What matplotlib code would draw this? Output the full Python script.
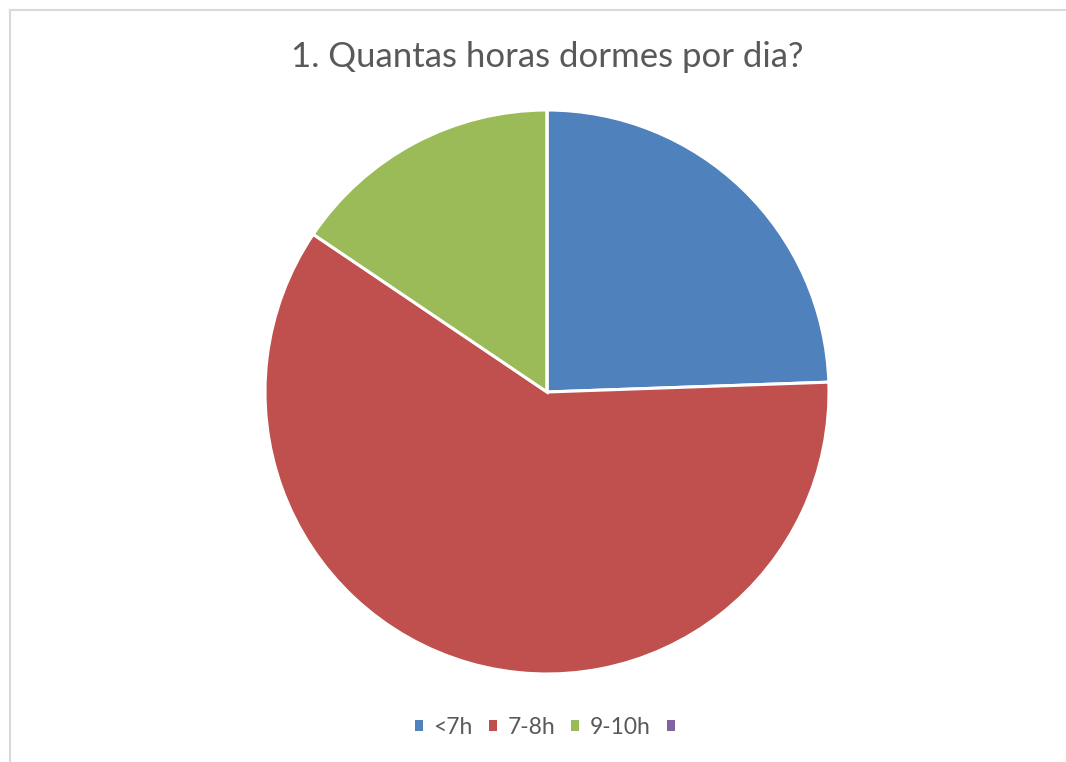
import matplotlib.pyplot as plt
from matplotlib.lines import Line2D
from matplotlib.patches import Patch

categorias = ["<7h", "7-8h", "9-10h", ""]
respostas = [11, 27, 7, 0]
cores = ["#4F81BD", "#C0504D", "#9BBB59", "#8064A2"]
titulo = "1. Quantas horas dormes por dia?"

plt.rcParams["font.family"] = ["Lato", "DejaVu Sans"]

fig = plt.figure(figsize=(10.66, 7.62), dpi=100)
W, H = 1066, 762
cx, cy, r = 547, 392, 282
ax = fig.add_axes([(cx - r) / W, (H - cy - r) / H, 2 * r / W, 2 * r / H])

wedges, _ = ax.pie(
    respostas,
    colors=cores,
    startangle=90,
    counterclock=False,
    radius=1,
    wedgeprops=dict(edgecolor="white", linewidth=2.2),
)
ax.set_xlim(-1, 1)
ax.set_ylim(-1, 1)
ax.set_aspect("equal")
ax.axis("off")

fig.text(cx / W, 1 - 57 / H, titulo, ha="center", va="center",
         fontsize=25, color="#595959")

# quadrados da legenda sem a borda branca das fatias
marcas = [Patch(facecolor=w.get_facecolor(), edgecolor="none") for w in wedges]
fig.legend(
    marcas,
    categorias,
    loc="center",
    bbox_to_anchor=(550 / W, 1 - 727 / H),
    ncol=4,
    frameon=False,
    fontsize=16.5,
    labelcolor="#595959",
    handlelength=0.36,
    handleheight=0.36,
    handletextpad=0.45,
    columnspacing=0.7,
)

# borda cinza clara do gráfico
fig.add_artist(Line2D([10 / W, 1], [1 - 10 / H, 1 - 10 / H], color="#D9D9D9", lw=1.5))
fig.add_artist(Line2D([10 / W, 10 / W], [0, 1 - 10 / H], color="#D9D9D9", lw=1.5))

fig.savefig("out.png", dpi=100, facecolor="white")
